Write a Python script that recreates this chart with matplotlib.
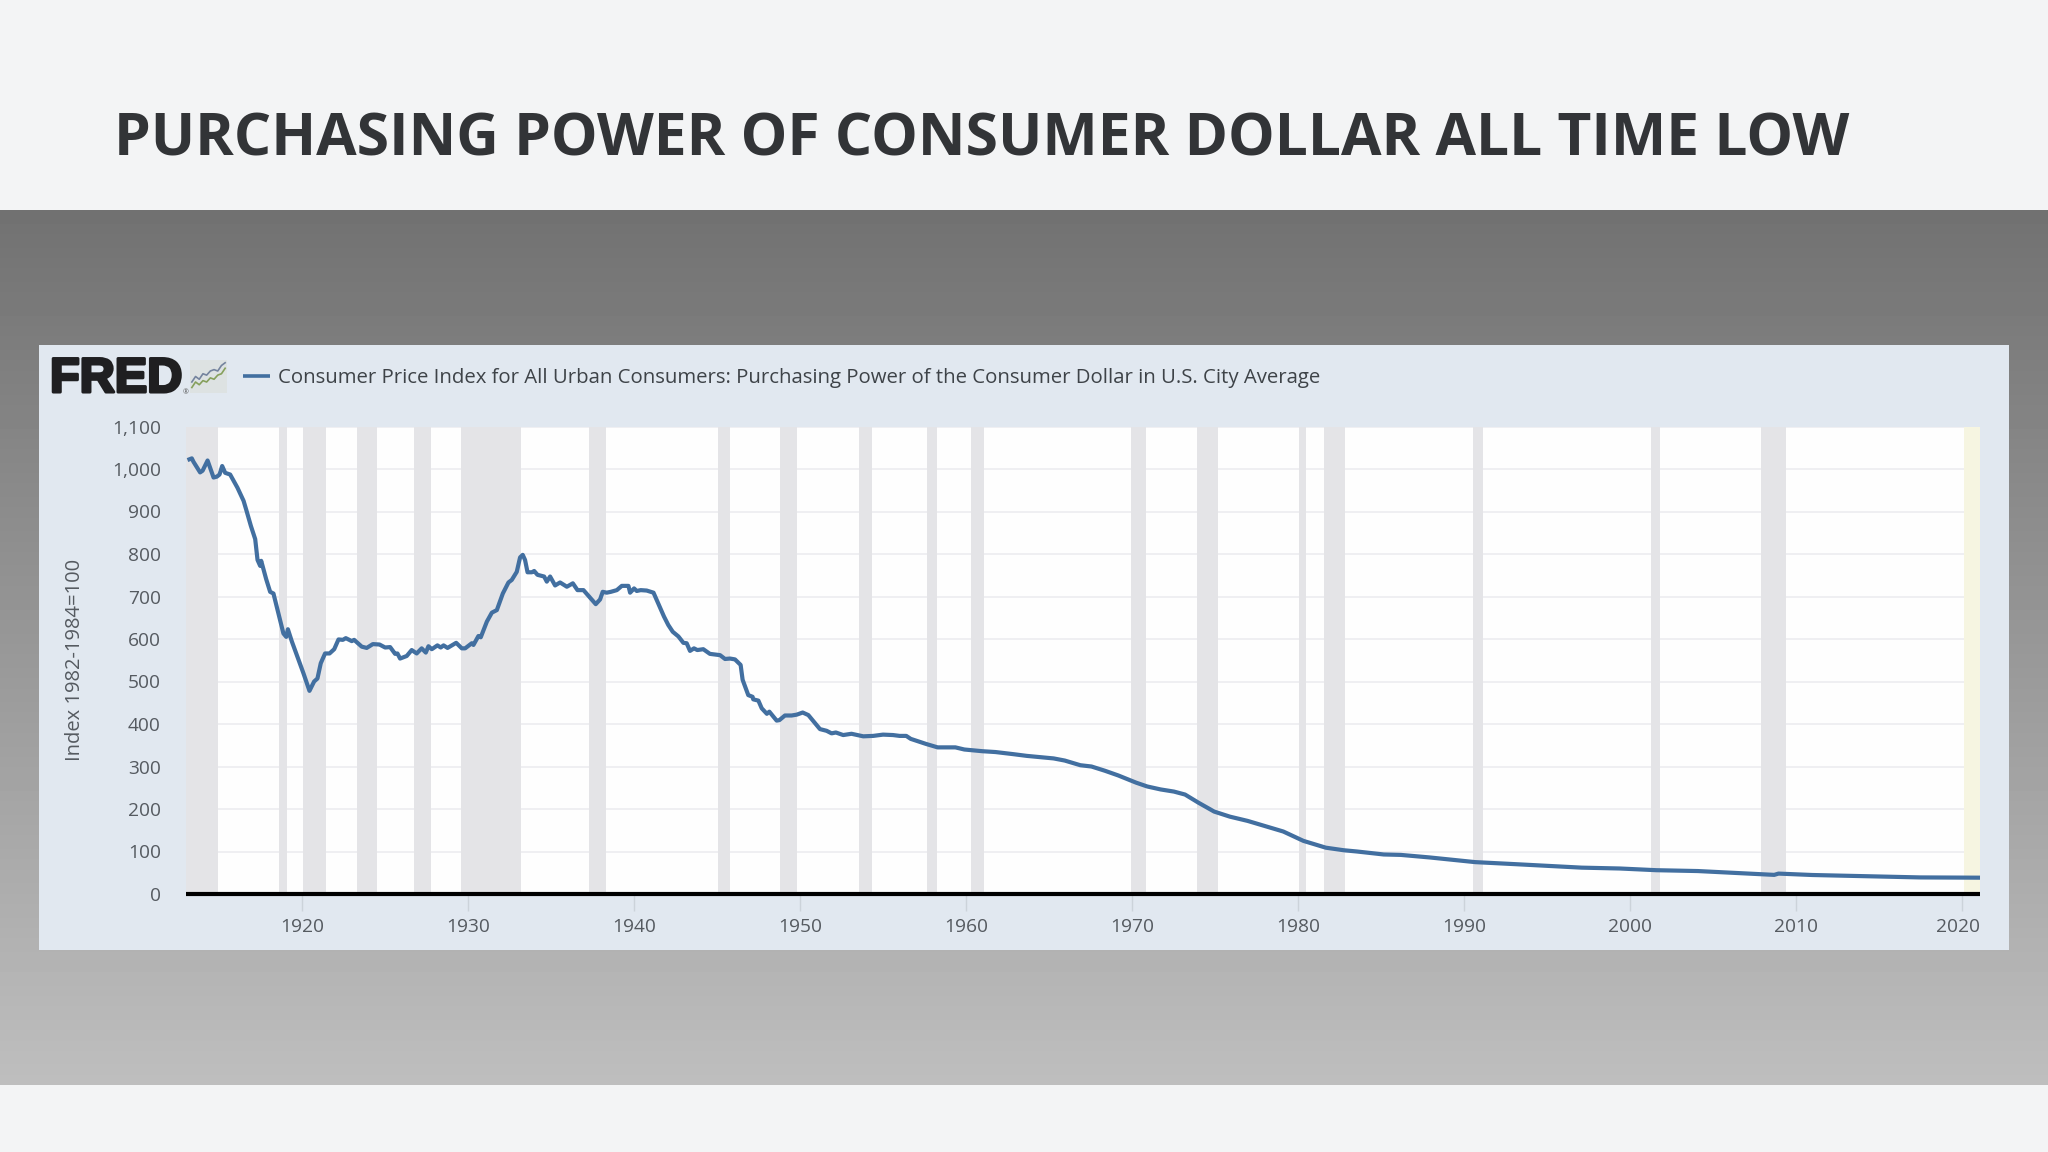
import numpy as np
import matplotlib
matplotlib.use("Agg")
import matplotlib.pyplot as plt
import matplotlib.patheffects as pe
from matplotlib.transforms import ScaledTranslation

plt.rcParams['font.family'] = ['Open Sans', 'DejaVu Sans']

title = "PURCHASING POWER OF CONSUMER DOLLAR ALL TIME LOW"
series_name = ("Consumer Price Index for All Urban Consumers: Purchasing Power "
               "of the Consumer Dollar in U.S. City Average")
y_label = "Index 1982-1984=100"

years = [
    1913.09, 1913.35, 1913.45, 1913.85, 1914.0, 1914.3, 1914.66, 1914.86, 1915.02, 1915.18,
    1915.36, 1915.66, 1916.1, 1916.47, 1916.63, 1916.91, 1917.17, 1917.31, 1917.47, 1917.53,
    1917.83, 1918.07, 1918.27, 1918.57, 1918.87, 1919.04, 1919.14, 1919.38, 1919.68, 1920.08,
    1920.44, 1920.72, 1920.92, 1921.12, 1921.38, 1921.65, 1921.93, 1922.19, 1922.45, 1922.63,
    1922.99, 1923.13, 1923.59, 1923.89, 1924.26, 1924.66, 1925.0, 1925.3, 1925.6, 1925.74,
    1925.9, 1926.3, 1926.6, 1926.9, 1927.2, 1927.45, 1927.61, 1927.81, 1928.15, 1928.35,
    1928.52, 1928.76, 1929.28, 1929.62, 1929.82, 1930.22, 1930.32, 1930.62, 1930.76, 1931.13,
    1931.43, 1931.73, 1932.09, 1932.43, 1932.63, 1932.93, 1933.13, 1933.29, 1933.43, 1933.58,
    1933.84, 1933.98, 1934.18, 1934.58, 1934.74, 1934.94, 1935.24, 1935.54, 1935.95, 1936.31,
    1936.59, 1936.95, 1937.69, 1937.95, 1938.11, 1938.35, 1938.6, 1938.96, 1939.26, 1939.66,
    1939.76, 1940.0, 1940.16, 1940.4, 1940.76, 1941.17, 1941.52, 1941.8, 1942.06, 1942.33,
    1942.67, 1942.97, 1943.17, 1943.37, 1943.61, 1943.81, 1944.17, 1944.57, 1945.18, 1945.48,
    1945.78, 1946.08, 1946.42, 1946.54, 1946.88, 1947.14, 1947.18, 1947.49, 1947.69, 1948.0,
    1948.15, 1948.59, 1948.75, 1949.09, 1949.49, 1949.8, 1950.16, 1950.5, 1950.9, 1951.2,
    1951.6, 1951.9, 1952.16, 1952.6, 1953.1, 1953.81, 1954.41, 1955.0, 1955.6, 1956.0,
    1956.4, 1956.67, 1957.6, 1958.29, 1959.36, 1959.9, 1960.98, 1961.78, 1962.86, 1963.66,
    1965.28, 1965.95, 1966.89, 1967.56, 1968.37, 1969.17, 1970.25, 1970.92, 1971.73, 1972.53,
    1973.2, 1974.0, 1974.95, 1975.9, 1976.97, 1978.18, 1979.12, 1980.33, 1981.68, 1982.75,
    1983.56, 1985.17, 1986.2, 1987.94, 1990.68, 1993.2, 1997.1, 1999.4, 2001.6, 2004.1,
    2006.8, 2008.7, 2008.96, 2011.0, 2014.6, 2017.5, 2021.1,
]
power = [
    1021, 1025, 1017, 992, 996, 1020, 980, 982, 987, 1007,
    991, 987, 956, 925, 904, 866, 835, 786, 772, 784,
    741, 711, 707, 660, 613, 605, 623, 594, 562, 519,
    478, 500, 507, 543, 566, 566, 576, 599, 598, 602,
    595, 598, 582, 579, 588, 587, 580, 581, 565, 566,
    554, 560, 574, 566, 578, 568, 583, 576, 585, 580,
    585, 579, 591, 578, 578, 590, 586, 607, 604, 641,
    662, 668, 707, 733, 739, 758, 792, 798, 786, 757,
    757, 760, 751, 747, 735, 747, 726, 733, 723, 731,
    715, 715, 682, 693, 711, 709, 711, 715, 725, 725,
    709, 719, 713, 715, 714, 709, 678, 653, 633, 617,
    606, 591, 590, 572, 578, 574, 576, 565, 562, 553,
    554, 552, 539, 504, 468, 464, 458, 455, 437, 424,
    429, 408, 409, 420, 420, 422, 427, 421, 402, 388,
    384, 378, 380, 374, 377, 371, 372, 375, 374, 372,
    372, 365, 353, 345, 345, 340, 336, 334, 329, 325,
    319, 314, 303, 300, 290, 279, 262, 253, 246, 241,
    234, 215, 194, 182, 172, 158, 147, 125, 109, 103,
    100, 93, 92, 86, 75, 70, 62, 60, 56, 54,
    48.6, 45, 48, 44.7, 41.5, 39, 38.4,
]

recession_start = [1913.0, 1918.6, 1920.06, 1923.3, 1926.75, 1929.56, 1937.29, 1945.07, 1948.8,
                   1953.56, 1957.67, 1960.33, 1969.92, 1973.92, 1980.08, 1981.58, 1990.58,
                   2001.25, 2007.92]
recession_end = [1914.92, 1919.1, 1921.45, 1924.5, 1927.75, 1933.19, 1938.3, 1945.78, 1949.8,
                 1954.36, 1958.25, 1961.08, 1970.83, 1975.17, 1980.5, 1982.83, 1991.17,
                 2001.83, 2009.42]
provisional_start = 2020.12
provisional_end = 2021.1

y_ticks = [0, 100, 200, 300, 400, 500, 600, 700, 800, 900, 1000, 1100]
x_ticks = [1920, 1930, 1940, 1950, 1960, 1970, 1980, 1990, 2000, 2010, 2020]

# little FRED icon
icon_x = [0, 1, 2, 3, 4, 5, 6, 7, 8, 9]
icon_blue = [3, 5, 4, 6, 5.5, 7, 7.5, 7, 9, 10]
icon_green = [1, 3, 2, 3.5, 3, 4.5, 4, 5.5, 6, 8]

W, H = 2048, 1152
fig = plt.figure(figsize=(W / 100, H / 100), dpi=100, facecolor='#f3f4f5')


def box(x0, y0, x1, y1):
    # pixel box (y from top) to figure fractions
    return [x0 / W, 1 - y1 / H, (x1 - x0) / W, (y1 - y0) / H]


def put(x, y, s, **kw):
    return fig.text(x / W, 1 - y / H, s, **kw)


bg = fig.add_axes(box(0, 210, W, 1085), zorder=0)
grad = np.linspace(0.445, 0.745, 256).reshape(-1, 1)
bg.imshow(grad, cmap='gray', vmin=0, vmax=1, aspect='auto')
bg.axis('off')

panel = fig.add_axes(box(39, 345, 2009, 950), zorder=1)
panel.set_facecolor('#e1e8f0')
panel.set_xticks([])
panel.set_yticks([])
for s in panel.spines.values():
    s.set_visible(False)

ax = fig.add_axes(box(186, 426.5, 1980, 894), zorder=2)
ax.set_facecolor('#fefefe')
ax.set_xlim(1913.0, 2021.1)
ax.set_ylim(0, 1100)

ax.set_yticks(y_ticks)
ax.set_yticklabels([f"{v:,}" for v in y_ticks], fontsize=13.8, color='#555a60')
ax.set_xticks(x_ticks)
ax.set_xticklabels([str(v) for v in x_ticks], fontsize=13.8, color='#555a60')
ax.tick_params(axis='y', length=0, pad=18)
ax.tick_params(axis='x', length=12, width=1, color='#ccd3da', pad=5)
ax.grid(axis='y', color='#eeeef1', lw=1.3, zorder=1)
ax.set_axisbelow(True)

# last year label is pushed left to stay inside the plot
last = ax.get_xticklabels()[-1]
last.set_transform(last.get_transform() + ScaledTranslation(-0.04, 0, fig.dpi_scale_trans))

for s0, s1 in zip(recession_start, recession_end):
    ax.axvspan(s0, s1, color='#e4e4e7', lw=0, zorder=1.5)
ax.axvspan(provisional_start, provisional_end, color='#f6f5e1', lw=0, zorder=1.5)

ax.plot(years, power, color='#426fa0', lw=3, solid_joinstyle='round', solid_capstyle='butt',
        zorder=3, clip_on=False)

for name in ['top', 'left', 'right']:
    ax.spines[name].set_visible(False)
ax.spines['bottom'].set_color('black')
ax.spines['bottom'].set_linewidth(3)
ax.spines['bottom'].set_capstyle('butt')
ax.spines['bottom'].set_zorder(4)

put(114, 140, title, fontsize=42.3, fontweight='bold', color='#323437', va='center', ha='left', zorder=5)

put(278, 378, series_name, fontsize=14.7, color='#3e4348', va='center', ha='left', zorder=5)
put(75, 660, y_label, fontsize=14.5, color='#555a60', rotation=90, va='center', ha='center', zorder=5)

put(50, 379.5, "FRED", fontsize=35, fontweight='bold', color='#1f1f21', va='center', ha='left', zorder=5,
    family=['Liberation Sans'],
    path_effects=[pe.withStroke(linewidth=2.2, foreground='#1f1f21')])
put(183, 393, "®", fontsize=5, color='#555555', va='center', ha='left', zorder=5)

leg = fig.add_axes(box(243, 372, 270, 380), zorder=5)
leg.plot([0, 1], [0.5, 0.5], color='#426fa0', lw=2.6)
leg.set_xlim(0, 1)
leg.set_ylim(0, 1)
leg.axis('off')

icon = fig.add_axes(box(190, 360, 227, 393), zorder=5)
icon.set_facecolor('#dde2e2')
icon.plot(icon_x, icon_blue, color='#75849e', lw=1.2)
icon.plot(icon_x, icon_green, color='#86a05c', lw=1.2)
icon.set_xlim(-0.5, 9.5)
icon.set_ylim(-1, 11)
icon.set_xticks([])
icon.set_yticks([])
for s in icon.spines.values():
    s.set_visible(False)

fig.savefig("out.png", dpi=100, facecolor=fig.get_facecolor())
